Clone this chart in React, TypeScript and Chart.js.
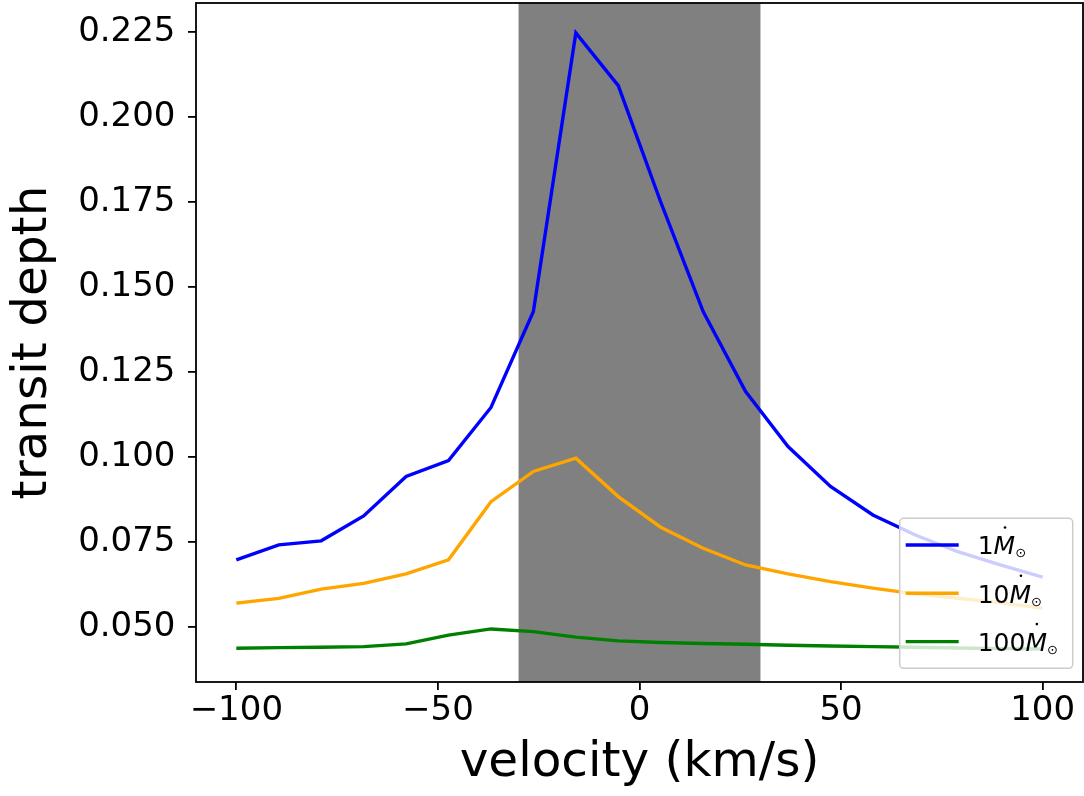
import React, { useEffect, useRef } from "react";
import { Chart, registerables } from "chart.js";

Chart.register(...registerables);

// ---- data ----
const VELOCITY = [
  -100, -89.47, -78.95, -68.42, -57.89, -47.37, -36.84, -26.32, -15.79, -5.26,
  5.26, 15.79, 26.32, 36.84, 47.37, 57.89, 68.42, 78.95, 89.47, 100,
];
const DEPTH_1 = [
  0.0698, 0.0742, 0.0754, 0.0827, 0.0943, 0.099, 0.1146, 0.1428, 0.2247, 0.2092,
  0.175, 0.1428, 0.1193, 0.1031, 0.0914, 0.083, 0.0771, 0.0722, 0.0683, 0.0647,
];
const DEPTH_10 = [
  0.0571, 0.0585, 0.0612, 0.0629, 0.0657, 0.0698, 0.0869, 0.0958, 0.0997, 0.0884,
  0.0794, 0.0732, 0.0683, 0.0657, 0.0634, 0.0615, 0.0598, 0.0585, 0.0572, 0.0556,
];
const DEPTH_100 = [
  0.0438, 0.044, 0.0441, 0.0443, 0.0451, 0.0477, 0.0495, 0.0487, 0.0471, 0.046,
  0.0455, 0.0452, 0.045, 0.0447, 0.0445, 0.0443, 0.0441, 0.0439, 0.0437, 0.0436,
];
const MASS_PREFIX = ["1", "10", "100"];
const SERIES_COLORS = ["#0000ff", "#ffa500", "#008000"];
const X_TICKS = [-100, -50, 0, 50, 100];
const Y_TICKS = [0.05, 0.075, 0.1, 0.125, 0.15, 0.175, 0.2, 0.225];
const X_RANGE = [-110, 110];
const Y_RANGE = [0.0339, 0.2335];
const BAND = [-30, 30];
const X_TITLE = "velocity (km/s)";
const Y_TITLE = "transit depth";

const FONT = "'DejaVu Sans', sans-serif";

const bandPlugin = {
  id: "band",
  beforeDatasetsDraw(chart: any) {
    const { ctx, chartArea, scales } = chart;
    const x1 = scales.x.getPixelForValue(BAND[0]);
    const x2 = scales.x.getPixelForValue(BAND[1]);
    ctx.save();
    ctx.fillStyle = "#808080";
    ctx.fillRect(x1, chartArea.top, x2 - x1, chartArea.bottom - chartArea.top);
    ctx.restore();
  },
};

const framePlugin = {
  id: "frame",
  afterDatasetsDraw(chart: any) {
    const { ctx, chartArea } = chart;
    ctx.save();
    ctx.strokeStyle = "#000";
    ctx.lineWidth = 1.8;
    ctx.strokeRect(
      chartArea.left,
      chartArea.top,
      chartArea.right - chartArea.left,
      chartArea.bottom - chartArea.top
    );

    // legend
    const boxW = 173;
    const boxH = 150;
    const x0 = chartArea.right - 10.3 - boxW;
    const y0 = chartArea.bottom - 13.7 - boxH;
    ctx.beginPath();
    ctx.roundRect(x0, y0, boxW, boxH, 4);
    ctx.fillStyle = "rgba(255,255,255,0.8)";
    ctx.fill();
    ctx.strokeStyle = "#cccccc";
    ctx.lineWidth = 1.5;
    ctx.stroke();
    chart.data.datasets.forEach((ds: any, i: number) => {
      const ly = y0 + 26.7 + i * 48.3;
      ctx.strokeStyle = ds.borderColor;
      ctx.lineWidth = 3.4;
      ctx.beginPath();
      ctx.moveTo(x0 + 6, ly);
      ctx.lineTo(x0 + 59, ly);
      ctx.stroke();
      const base = ly + 9.3;
      let tx = x0 + 78;
      ctx.fillStyle = "#000";
      ctx.textAlign = "left";
      ctx.textBaseline = "alphabetic";
      ctx.font = `25px ${FONT}`;
      const prefix = MASS_PREFIX[i];
      ctx.fillText(prefix, tx, base);
      tx += ctx.measureText(prefix).width;
      ctx.font = `italic 25px ${FONT}`;
      ctx.fillText("M", tx, base);
      const mw = ctx.measureText("M").width;
      ctx.beginPath();
      ctx.arc(tx + mw * 0.53, base - 26.8, 1.3, 0, Math.PI * 2);
      ctx.fill();
      tx += mw;
      ctx.font = `13px ${FONT}`;
      ctx.fillText("\u2299", tx, base + 3);
    });
    ctx.restore();
  },
};

const zeroPad = (s: any) => {
  s.paddingTop = 0;
  s.paddingBottom = 0;
  s.paddingLeft = 0;
  s.paddingRight = 0;
};

export default function App() {
  const ref = useRef<HTMLCanvasElement | null>(null);
  useEffect(() => {
    if (!ref.current) return;
    const series = [DEPTH_1, DEPTH_10, DEPTH_100];
    const chart = new Chart(ref.current, {
      type: "line",
      data: {
        datasets: series.map((s, i) => ({
          label: `${MASS_PREFIX[i]}\u1E40\u2299`,
          data: VELOCITY.map((v, j) => ({ x: v, y: s[j] })),
          borderColor: SERIES_COLORS[i],
          backgroundColor: SERIES_COLORS[i],
          borderWidth: 3.4,
          pointRadius: 0,
          tension: 0,
          fill: false,
        })),
      },
      options: {
        animation: false,
        responsive: false,
        devicePixelRatio: 1,
        layout: { padding: { top: 3, right: 1, left: 0, bottom: 0 } },
        plugins: {
          legend: { display: false },
          tooltip: { enabled: false },
        },
        scales: {
          x: {
            type: "linear",
            min: X_RANGE[0],
            max: X_RANGE[1],
            afterBuildTicks: (s: any) => {
              s.ticks = X_TICKS.map((v) => ({ value: v }));
            },
            afterFit: (s: any) => {
              s.height = 114;
              zeroPad(s);
            },
            grid: {
              display: true,
              drawOnChartArea: false,
              drawTicks: true,
              tickLength: 8,
              tickWidth: 1.8,
              tickColor: "#000",
              color: "#000",
              lineWidth: 1.8,
            },
            border: { display: false },
            ticks: {
              autoSkip: false,
              maxRotation: 0,
              minRotation: 0,
              padding: 1,
              color: "#000",
              font: { family: FONT, size: 34 },
              callback: (v: any) =>
                Number(v) < 0 ? "\u2212" + Math.abs(Number(v)) : String(v),
            },
            title: {
              display: true,
              text: X_TITLE,
              color: "#000",
              font: { family: FONT, size: 48.5 },
              padding: { top: 0, bottom: 3.7 },
            },
          },
          y: {
            type: "linear",
            min: Y_RANGE[0],
            max: Y_RANGE[1],
            afterBuildTicks: (s: any) => {
              s.ticks = Y_TICKS.map((v) => ({ value: v }));
            },
            afterFit: (s: any) => {
              s.width = 196;
              zeroPad(s);
            },
            grid: {
              display: true,
              drawOnChartArea: false,
              drawTicks: true,
              tickLength: 8,
              tickWidth: 1.8,
              tickColor: "#000",
              color: "#000",
              lineWidth: 1.8,
            },
            border: { display: false },
            ticks: {
              autoSkip: false,
              padding: 12.5,
              color: "#000",
              font: { family: FONT, size: 34 },
              callback: (v: any) => Number(v).toFixed(3),
            },
            title: {
              display: true,
              text: Y_TITLE,
              color: "#000",
              font: { family: FONT, size: 48.5 },
              padding: { top: 4.8, bottom: 0 },
            },
          },
        },
      },
      plugins: [bandPlugin, framePlugin],
    });
    return () => chart.destroy();
  }, []);
  return (
    <div style={{ position: "absolute", left: 0, top: 0, width: 1084, height: 796, background: "#fff" }}>
      <canvas ref={ref} width={1084} height={796} style={{ display: "block" }} />
    </div>
  );
}
